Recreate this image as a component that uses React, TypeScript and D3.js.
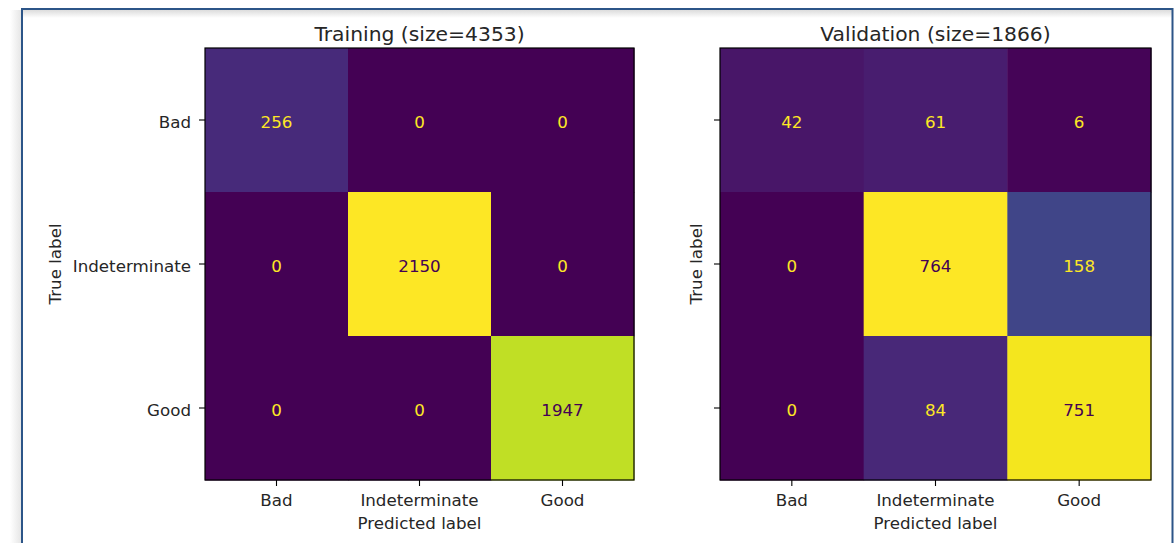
import React from "react";
import * as d3 from "d3";

const classLabels = ["Bad", "Indeterminate", "Good"];
const trainingTitle = "Training (size=4353)";
const validationTitle = "Validation (size=1866)";
const trainingRowBad = [256, 0, 0];
const trainingRowIndeterminate = [0, 2150, 0];
const trainingRowGood = [0, 0, 1947];
const validationRowBad = [42, 61, 6];
const validationRowIndeterminate = [0, 764, 158];
const validationRowGood = [0, 84, 751];
const xAxisLabel = "Predicted label";
const yAxisLabel = "True label";

const trainingMatrix = [trainingRowBad, trainingRowIndeterminate, trainingRowGood];
const validationMatrix = [validationRowBad, validationRowIndeterminate, validationRowGood];

const FONT = "'DejaVu Sans', sans-serif";
const FS = 16.7;
const TITLE_FS = 20.3;
const TEXT = "#262626";

type PanelProps = {
  left: number;
  right: number;
  top: number;
  bottom: number;
  matrix: number[][];
  title: string;
  showYTickLabels: boolean;
  yLabelX: number;
};

function Panel({ left, right, top, bottom, matrix, title, showYTickLabels, yLabelX }: PanelProps) {
  const x = d3.scaleBand<string>().domain(classLabels).range([left, right]).padding(0);
  const y = d3.scaleBand<string>().domain(classLabels).range([top, bottom]).padding(0);
  const flat = matrix.flat();
  const vmin = d3.min(flat) as number;
  const vmax = d3.max(flat) as number;
  const color = d3.scaleSequential(d3.interpolateViridis).domain([vmin, vmax]);
  const thresh = (vmax + vmin) / 2;
  const tickLen = 6;
  return (
    <g>
      {matrix.map((row, i) =>
        row.map((v, j) => (
          <rect
            key={`c${i}-${j}`}
            x={x(classLabels[j])}
            y={y(classLabels[i])}
            width={x.bandwidth() + 0.5}
            height={y.bandwidth() + 0.5}
            fill={color(v)}
          />
        ))
      )}
      {matrix.map((row, i) =>
        row.map((v, j) => (
          <text
            key={`t${i}-${j}`}
            x={(x(classLabels[j]) as number) + x.bandwidth() / 2}
            y={(y(classLabels[i]) as number) + y.bandwidth() / 2 + 7.5}
            textAnchor="middle"
            fontFamily={FONT}
            fontSize={FS}
            fill={v < thresh ? d3.interpolateViridis(1) : d3.interpolateViridis(0)}
          >
            {v}
          </text>
        ))
      )}
      <rect x={left} y={top} width={right - left} height={bottom - top} fill="none" stroke="#000" strokeWidth={1.2} />
      {classLabels.map((c) => {
        const cy = (y(c) as number) + y.bandwidth() / 2;
        return (
          <g key={`yt${c}`}>
            <line x1={left - tickLen} x2={left} y1={cy} y2={cy} stroke="#000" strokeWidth={1.1} />
            {showYTickLabels && (
              <text x={left - tickLen - 8} y={cy + 8} textAnchor="end" fontFamily={FONT} fontSize={FS} fill={TEXT}>
                {c}
              </text>
            )}
          </g>
        );
      })}
      {classLabels.map((c) => {
        const cx = (x(c) as number) + x.bandwidth() / 2;
        return (
          <g key={`xt${c}`}>
            <line x1={cx} x2={cx} y1={bottom} y2={bottom + tickLen} stroke="#000" strokeWidth={1.1} />
            <text x={cx} y={bottom + 25.5} textAnchor="middle" fontFamily={FONT} fontSize={FS} fill={TEXT}>
              {c}
            </text>
          </g>
        );
      })}
      <text x={(left + right) / 2} y={bottom + 49} textAnchor="middle" fontFamily={FONT} fontSize={FS} fill={TEXT}>
        {xAxisLabel}
      </text>
      <text
        transform={`translate(${yLabelX},${(top + bottom) / 2}) rotate(-90)`}
        textAnchor="middle"
        fontFamily={FONT}
        fontSize={FS}
        fill={TEXT}
      >
        {yAxisLabel}
      </text>
      <text x={(left + right) / 2} y={top - 7.5} textAnchor="middle" fontFamily={FONT} fontSize={TITLE_FS} fill={TEXT}>
        {title}
      </text>
    </g>
  );
}

export default function App() {
  const W = 1176;
  const H = 543;
  return (
    <svg
      width={W}
      height={H}
      style={{ position: "absolute", left: 0, top: 0, background: "#fff" }}
    >
      <defs>
        <linearGradient id="shTop" x1="0" y1="0" x2="0" y2="1">
          <stop offset="0" stopColor="#dcdcdc" />
          <stop offset="1" stopColor="#ffffff" />
        </linearGradient>
        <linearGradient id="shLeft" x1="1" y1="0" x2="0" y2="0">
          <stop offset="0" stopColor="#e4e4e4" />
          <stop offset="1" stopColor="#ffffff" />
        </linearGradient>
      </defs>
      <rect x={0} y={0} width={W} height={H} fill="#fff" />
      <rect x={10} y={10} width={12} height={H} fill="url(#shLeft)" />
      <rect x={23} y={10} width={1149} height={8} fill="url(#shTop)" />
      <path d={`M22,${H + 2} L22,9 L1172.5,9 L1172.5,${H + 2}`} fill="none" stroke="#2c5588" strokeWidth={2} />
      <Panel
        left={205}
        right={634}
        top={48}
        bottom={480}
        matrix={trainingMatrix}
        title={trainingTitle}
        showYTickLabels={true}
        yLabelX={61}
      />
      <Panel
        left={720}
        right={1151}
        top={48}
        bottom={480}
        matrix={validationMatrix}
        title={validationTitle}
        showYTickLabels={false}
        yLabelX={702}
      />
    </svg>
  );
}
